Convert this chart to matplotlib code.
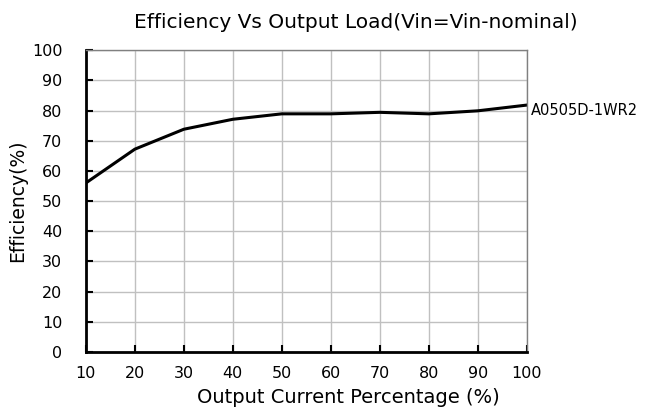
import matplotlib
matplotlib.use('Agg')
import matplotlib.pyplot as plt

# Efficiency vs output load
load_pct = [10, 20, 30, 40, 50, 60, 70, 80, 90, 100]
efficiency = [56, 67.2, 73.8, 77.1, 78.9, 78.9, 79.4, 78.9, 79.9, 81.8]
model = "A0505D-1WR2"

plt.rcParams['font.family'] = ['DejaVu Sans']

fig = plt.figure(figsize=(6.71, 4.18), dpi=100)
ax = fig.add_axes([0.128, 0.158, 0.657, 0.722])

ax.plot(load_pct, efficiency, color='black', linewidth=2.2)

ax.set_xlim(10, 100)
ax.set_ylim(0, 100)
ax.set_xticks(range(10, 101, 10))
ax.set_yticks(range(0, 101, 10))
ax.grid(True, color='#c0c0c0', linewidth=1)
ax.set_axisbelow(True)

for side in ('top', 'right'):
    ax.spines[side].set_color('#808080')
    ax.spines[side].set_linewidth(1)
for side in ('left', 'bottom'):
    ax.spines[side].set_color('black')
    ax.spines[side].set_linewidth(2)

ax.tick_params(direction='in', length=5, width=1.5, labelsize=11.5)
ax.tick_params(axis='y', pad=17)
ax.tick_params(axis='x', pad=10)

ax.set_xlabel("Output Current Percentage (%)", fontsize=14, labelpad=5, x=0.596)
ax.set_ylabel("Efficiency(%)", fontsize=13.5, labelpad=3)
fig.text(0.53, 0.945, "Efficiency Vs Output Load(Vin=Vin-nominal)",
         ha='center', va='center', fontsize=14.5)

ax.text(1.01, 0.8, model, transform=ax.transAxes, fontsize=10.5,
        ha='left', va='center')

fig.savefig("out.png", dpi=100)
